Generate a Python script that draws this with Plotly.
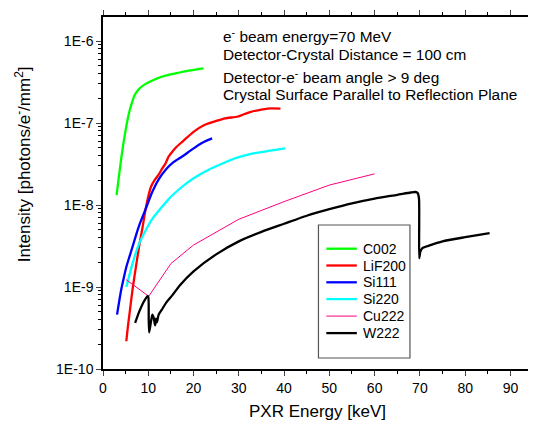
import plotly.graph_objects as go

# ---- data ----
c002_x = [3.0, 3.5, 4.0, 4.5, 5.0, 5.5, 6.0, 6.5, 7.0, 8.0, 9.0, 10.0, 12.0, 14.0, 16.7, 19.0, 22.2]
c002_y = [1.32e-8, 2.2e-8, 3.6e-8, 5.6e-8, 8.2e-8, 1.15e-7, 1.5e-7, 1.85e-7, 2.2e-7, 2.62e-7, 2.9e-7, 3.12e-7, 3.5e-7, 3.8e-7, 4.1e-7, 4.35e-7, 4.65e-7]

lif_x = [5.15, 5.5, 5.9, 6.6, 7.3, 8.0, 8.7, 9.3, 9.9, 10.6, 11.5, 12.4, 13.1, 13.8, 14.5, 15.3, 16.2, 17.5, 20.0, 22.5, 25.0, 27.0, 29.8, 31.0, 32.7, 34.5, 36.3, 39.2]
lif_y = [2.18e-10, 3.3e-10, 4.95e-10, 1.0e-9, 1.8e-9, 3.2e-9, 5.2e-9, 8.2e-9, 1.2e-8, 1.67e-8, 2.05e-8, 2.4e-8, 2.8e-8, 3.2e-8, 3.9e-8, 4.47e-8, 5.1e-8, 5.9e-8, 7.8e-8, 9.5e-8, 1.06e-7, 1.14e-7, 1.2e-7, 1.27e-7, 1.37e-7, 1.44e-7, 1.5e-7, 1.5e-7]

si111_x = [3.1, 3.5, 4.06, 4.6, 5.15, 5.9, 6.6, 7.3, 8.0, 9.3, 10.9, 12.3, 13.8, 15.5, 17.5, 19.3, 21.1, 22.6, 24.1]
si111_y = [4.6e-10, 6.3e-10, 9.5e-10, 1.3e-9, 1.75e-9, 2.4e-9, 3.2e-9, 4.3e-9, 5.65e-9, 8.6e-9, 1.45e-8, 2.05e-8, 2.67e-8, 3.3e-8, 3.9e-8, 4.6e-8, 5.4e-8, 6.0e-8, 6.5e-8]

si220_x = [5.15, 6.6, 8.0, 9.5, 11.0, 12.9, 14.5, 16.0, 18.5, 21.1, 24.0, 26.9, 29.8, 32.7, 36.3, 40.2]
si220_y = [1.0e-9, 2.0e-9, 3.4e-9, 5.0e-9, 6.9e-9, 9.3e-9, 1.18e-8, 1.42e-8, 1.85e-8, 2.3e-8, 2.8e-8, 3.3e-8, 3.8e-8, 4.2e-8, 4.55e-8, 4.9e-8]

cu_x = [5.1, 10.1, 15.0, 20.0, 30.0, 40.0, 50.0, 60.0]
cu_y = [1.23e-9, 7.7e-10, 1.93e-9, 3.25e-9, 6.7e-9, 1.1e-8, 1.75e-8, 2.4e-8]

w_x = [7.1, 8.0, 9.0, 9.8, 10.0, 10.1, 10.2, 10.6, 10.9, 11.2, 11.5, 11.7, 11.9, 12.3, 13.0, 14.0, 15.3, 17.0, 20.0, 25.0, 30.0, 35.0, 40.0, 45.0, 50.0, 55.0, 60.0, 65.0, 68.0, 69.0, 69.5, 69.8, 69.85, 70.1, 70.6, 72.0, 75.0, 80.0, 85.4]
w_y = [3.64e-10, 5.0e-10, 6.6e-10, 7.7e-10, 7.6e-10, 4.0e-10, 2.8e-10, 3.8e-10, 4.6e-10, 4.2e-10, 3.4e-10, 4.1e-10, 3.7e-10, 4.6e-10, 5.3e-10, 6.5e-10, 7.9e-10, 1.05e-9, 1.55e-9, 2.5e-9, 3.6e-9, 4.7e-9, 5.9e-9, 7.4e-9, 8.9e-9, 1.05e-8, 1.2e-8, 1.33e-8, 1.42e-8, 1.44e-8, 1.40e-8, 1.2e-8, 2.25e-9, 2.7e-9, 3.0e-9, 3.2e-9, 3.6e-9, 4.05e-9, 4.55e-9]

series = [
    ("C002", c002_x, c002_y, "#00FF00", 2.3),
    ("LiF200", lif_x, lif_y, "#FF0000", 2.3),
    ("Si111", si111_x, si111_y, "#0000FF", 2.3),
    ("Si220", si220_x, si220_y, "#00FFFF", 2.3),
    ("Cu222", cu_x, cu_y, "#FF0080", 1.0),
    ("W222", w_x, w_y, "#000000", 2.3),
]

y_tickvals = [1e-10, 1e-9, 1e-8, 1e-7, 1e-6]
y_ticktext = ["1E-10", "1E-9", "1E-8", "1E-7", "1E-6"]
x_tickvals = [0, 10, 20, 30, 40, 50, 60, 70, 80, 90]

FONT = "Arial, Liberation Sans, sans-serif"

# page (browser) pixel geometry of the plot area; the page body has an 8px margin
PAGE_OFF = 8
PL, PR, PT, PB = 103, 536, 17, 369
PW, PH = PR - PL, PB - PT


def px(xp):
    return (xp - PL) / PW


def py(yp):
    return (PB - yp) / PH


fig = go.Figure()
for name, xs, ys, col, w in series:
    fig.add_trace(go.Scatter(x=xs, y=ys, mode="lines", name=name, showlegend=False,
                             line=dict(color=col, width=w,
                                       shape="spline" if name != "Cu222" else "linear",
                                       smoothing=0.6)))

minor_y = [m * 10.0 ** e for e in range(-10, -6) for m in range(2, 10)]

fig.update_layout(
    width=536 - PAGE_OFF, height=424 - PAGE_OFF,
    margin=dict(l=PL - PAGE_OFF, r=0, t=PT - PAGE_OFF, b=424 - PB),
    paper_bgcolor="white", plot_bgcolor="white",
    font=dict(family=FONT, size=14, color="black"),
    showlegend=False,
    xaxis=dict(range=[0, 94.1], tickvals=x_tickvals, ticks="outside", ticklen=5,
               tickwidth=1, showline=True, linecolor="black", linewidth=1.5,
               mirror="allticks", showgrid=False, zeroline=False,
               minor=dict(dtick=5, tick0=0, ticks="outside", ticklen=3, tickcolor="black", showgrid=False),
               tickfont=dict(size=14)),
    yaxis=dict(type="log", range=[-10, -5.7073], tickvals=y_tickvals, ticktext=y_ticktext,
               ticks="outside", ticklen=5, tickwidth=1, showline=True, linecolor="black",
               linewidth=1.5, mirror="allticks", showgrid=False, zeroline=False,
               minor=dict(tickvals=minor_y, ticks="outside", ticklen=3, tickcolor="black", showgrid=False),
               tickfont=dict(size=14)),
)

# legend (manual, to match spacing)
fig.add_shape(type="rect", xref="paper", yref="paper",
              x0=px(322), x1=px(415), y0=py(358), y1=py(225),
              line=dict(color="#555555", width=1.2), fillcolor="rgba(0,0,0,0)")
leg_y = [248.7, 265.5, 282.3, 299.1, 316.1, 333.1]
for (name, xs, ys, col, w), ly in zip(series, leg_y):
    fig.add_shape(type="line", xref="paper", yref="paper",
                  x0=px(330), x1=px(361), y0=py(ly), y1=py(ly),
                  line=dict(color=col, width=w))
    fig.add_annotation(text=name, xref="paper", yref="paper", x=px(365), y=py(ly),
                       showarrow=False, xanchor="left", yanchor="middle",
                       font=dict(size=14))

# axis titles
fig.add_annotation(text="Intensity [photons/e<sup>-</sup>/mm<sup>2</sup>]", xref="paper", yref="paper",
                   x=px(22), y=py(164), textangle=-90, showarrow=False,
                   font=dict(size=17), xanchor="center", yanchor="middle")
fig.add_annotation(text="PXR Energy [keV]", xref="paper", yref="paper",
                   x=px(321), y=py(411), showarrow=False,
                   font=dict(size=17), xanchor="center", yanchor="middle")

notes = [
    ("e<sup>-</sup> beam energy=70 MeV", 36),
    ("Detector-Crystal Distance = 100 cm", 55),
    ("Detector-e<sup>-</sup> beam angle > 9 deg", 77),
    ("Crystal Surface Parallel to Reflection Plane", 95),
]
for txt, yp in notes:
    fig.add_annotation(text=txt, xref="paper", yref="paper", x=px(225),
                       y=py(yp), showarrow=False, xanchor="left", yanchor="middle",
                       font=dict(size=15.4), xshift=-2)

fig.write_html("out.html")
